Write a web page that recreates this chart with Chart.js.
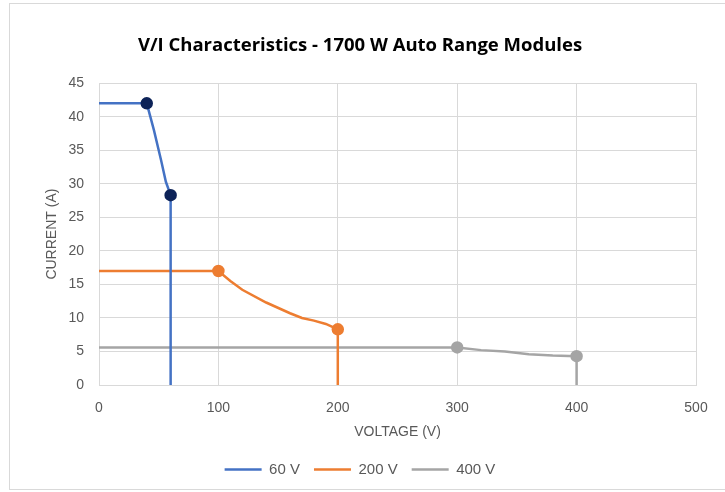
<!DOCTYPE html>
<html>
<head>
<meta charset="utf-8">
<script src="https://cdn.jsdelivr.net/npm/chart.js@4.4.1/dist/chart.umd.min.js"></script>
<style>
  html, body { margin: 0; padding: 0; background: #fff; }
  #box {
    position: absolute; left: 9px; top: 3px;
    width: 730px; height: 487px;
    border: 1px solid #d9d9d9; box-sizing: border-box;
  }
  #wrap { position: absolute; left: 0; top: 0; width: 716px; height: 485px; }
</style>
</head>
<body>
<div id="box"><div id="wrap"><canvas id="viChart"></canvas></div></div>
<script>
// 60 V module
const v60 = [0, 40, 46, 52, 56, 60, 60];
const i60 = [42, 42, 38, 33.5, 30.3, 28.3, 0];
const dots60 = [0, 5, 0, 0, 0, 5, 0];

// 200 V module
const v200 = [0, 100, 110, 120, 140, 160, 170, 180, 190, 200, 200];
const i200 = [17, 17, 15.5, 14.2, 12.3, 10.7, 10.0, 9.6, 9.1, 8.3, 0];
const dots200 = [0, 5, 0, 0, 0, 0, 0, 0, 0, 5, 0];

// 400 V module
const v400 = [0, 300, 320, 340, 360, 380, 400, 400];
const i400 = [5.6, 5.6, 5.2, 5.0, 4.6, 4.4, 4.3, 0];
const dots400 = [0, 5, 0, 0, 0, 0, 5, 0];

const seriesNames = ['60 V', '200 V', '400 V'];
const xTicks = [0, 100, 200, 300, 400, 500];
const yTicks = [0, 5, 10, 15, 20, 25, 30, 35, 40, 45];

const toPoints = (xs, ys) => xs.map((x, k) => ({ x: x, y: ys[k] }));

const txtColor = '#595959';
const gridColor = '#d9d9d9';
const fontName = 'Liberation Sans';

const datasets = [
    { label: seriesNames[0], data: toPoints(v60, i60), borderColor: '#4472c4',
      pointBackgroundColor: '#0d2358', pointBorderColor: '#0d2358', pointRadius: dots60 },
    { label: seriesNames[1], data: toPoints(v200, i200), borderColor: '#ed7d31',
      pointBackgroundColor: '#ed7d31', pointBorderColor: '#ed7d31', pointRadius: dots200 },
    { label: seriesNames[2], data: toPoints(v400, i400), borderColor: '#a5a5a5',
      pointBackgroundColor: '#a5a5a5', pointBorderColor: '#a5a5a5', pointRadius: dots400 }
].map(d => Object.assign({ showLine: true, borderWidth: 2.5, tension: 0, pointHoverRadius: 5,
                           backgroundColor: d.borderColor }, d));

const config = {
    type: 'scatter',
    data: { datasets: datasets },
    options: {
        responsive: true,
        maintainAspectRatio: false,
        animation: false,
        layout: { padding: { left: 14, right: 30, top: 0, bottom: 2 } },
        plugins: {
            title: {
                display: true,
                text: 'V/I Characteristics - 1700 W Auto Range Modules',
                color: '#000',
                font: { family: 'Open Sans', size: 18.5, weight: 'bold', lineHeight: 1.2 },
                padding: { top: 31, bottom: 26 }
            },
            legend: {
                position: 'bottom',
                labels: {
                    usePointStyle: true,
                    pointStyle: 'line',
                    pointStyleWidth: 37,
                    color: txtColor,
                    font: { family: fontName, size: 15 },
                    padding: 14,
                    generateLabels: chart => {
                        const items = Chart.defaults.plugins.legend.labels.generateLabels(chart);
                        items.forEach(it => {
                            const ds = chart.data.datasets[it.datasetIndex];
                            it.strokeStyle = ds.borderColor;
                            it.fillStyle = ds.borderColor;
                            it.lineWidth = 2.5;
                            it.pointStyle = 'line';
                        });
                        return items;
                    }
                }
            },
            tooltip: { enabled: false }
        },
        scales: {
            x: {
                type: 'linear',
                min: 0, max: 500,
                afterBuildTicks: s => { s.ticks = xTicks.map(v => ({ value: v })); },
                afterFit: s => { s.height = 63; },
                grid: { color: gridColor, drawTicks: false },
                border: { color: gridColor },
                ticks: { color: txtColor, font: { family: fontName, size: 14 }, padding: 15 },
                title: { display: true, text: 'VOLTAGE (V)', color: txtColor,
                         font: { family: fontName, size: 14 }, padding: { top: 9, bottom: 7 } }
            },
            y: {
                type: 'linear',
                min: 0, max: 45,
                afterBuildTicks: s => { s.ticks = yTicks.map(v => ({ value: v })); },
                afterFit: s => { s.width = 75; },
                grid: { color: gridColor, drawTicks: false },
                border: { color: gridColor },
                ticks: { color: txtColor, font: { family: fontName, size: 14 }, padding: 15 },
                title: { display: true, text: 'CURRENT (A)', color: txtColor,
                         font: { family: fontName, size: 14 }, padding: { top: 20, bottom: 0 } }
            }
        }
    }
};

const viChart = new Chart(document.getElementById('viChart'), config);
</script>
</body>
</html>
